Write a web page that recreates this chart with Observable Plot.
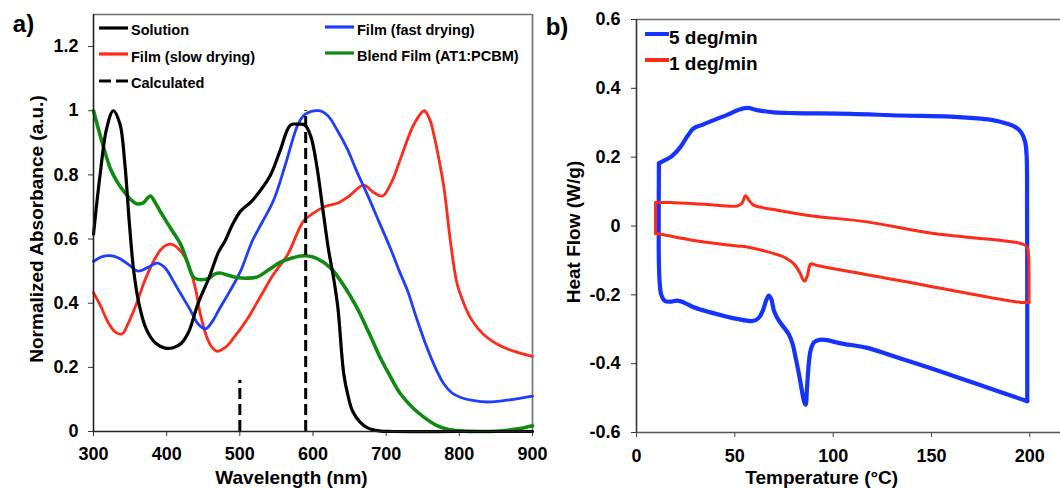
<!DOCTYPE html>
<html>
<head>
<meta charset="utf-8">
<script src="https://cdn.jsdelivr.net/npm/d3@7"></script>
<script src="https://cdn.jsdelivr.net/npm/@observablehq/plot@0.6"></script>
<style>
  html, body { margin: 0; padding: 0; background: #fff; }
  #fig { position: relative; width: 1060px; height: 488px; overflow: hidden; background: #fff;
         font-family: "Liberation Sans", Arial, Helvetica, sans-serif; font-weight: bold; color: #000; }
  .txt { position: absolute; white-space: nowrap; line-height: 1; }
  .sw { position: absolute; overflow: visible; }
</style>
</head>
<body>
<div id="fig"></div>
<script>
// ---------- a) UV-vis absorption spectra: [wavelength (nm), normalized absorbance] ----------
const solution = [
  [300,0.615],[309,0.80],[318,0.945],[327,1.0],[336,0.96],[343,0.83],[349,0.65],[355,0.50],
  [362,0.40],[372,0.32],[385,0.275],[398,0.26],[410,0.262],[420,0.275],[430,0.31],[443,0.40],
  [458,0.48],[471,0.56],[480,0.595],[490,0.645],[501,0.687],[515,0.715],[526,0.745],[542,0.80],
  [555,0.875],[569,0.955],[580,0.958],[589,0.955],[597,0.92],[605,0.83],[613,0.70],[621,0.57],
  [628,0.48],[634,0.386],[642,0.18],[648,0.11],[654,0.064],[664,0.03],[674,0.012],[690,0.002],
  [710,0],[800,0],[900,0]
];
const filmFast = [
  [300,0.53],[312,0.545],[323,0.548],[335,0.54],[348,0.52],[361,0.50],[373,0.51],[387,0.525],
  [398,0.51],[410,0.465],[419,0.43],[432,0.38],[443,0.335],[453,0.32],[463,0.345],[473,0.386],
  [487,0.44],[501,0.50],[517,0.594],[530,0.65],[546,0.72],[562,0.83],[580,0.96],[590,0.99],
  [608,1.0],[620,0.985],[633,0.94],[647,0.88],[660,0.81],[674,0.74],[690,0.655],[706,0.57],
  [718,0.50],[729,0.44],[742,0.35],[756,0.26],[768,0.195],[779,0.148],[790,0.12],[802,0.106],
  [820,0.096],[838,0.092],[856,0.095],[874,0.10],[900,0.11]
];
const filmSlow = [
  [300,0.433],[310,0.39],[320,0.34],[330,0.31],[339,0.304],[348,0.34],[359,0.40],[370,0.47],
  [382,0.53],[393,0.57],[405,0.584],[416,0.57],[428,0.53],[439,0.449],[446,0.366],[455,0.293],
  [462,0.262],[469,0.25],[480,0.262],[491,0.29],[510,0.35],[528,0.42],[546,0.49],[565,0.55],
  [587,0.656],[600,0.68],[615,0.70],[635,0.713],[650,0.735],[669,0.768],[683,0.745],[695,0.734],
  [708,0.78],[720,0.853],[738,0.958],[752,1.0],[760,0.97],[765,0.927],[772,0.85],[779,0.76],
  [788,0.59],[797,0.46],[806,0.40],[815,0.355],[826,0.32],[838,0.293],[852,0.272],[866,0.257],
  [882,0.245],[900,0.234]
];
const blendFilm = [
  [300,1.0],[312,0.90],[323,0.82],[332,0.78],[341,0.75],[350,0.725],[359,0.71],[368,0.713],
  [374,0.728],[378,0.734],[384,0.715],[391,0.687],[405,0.635],[419,0.584],[428,0.53],[437,0.48],
  [446,0.473],[458,0.478],[465,0.49],[473,0.494],[484,0.487],[496,0.48],[510,0.478],[524,0.482],
  [540,0.505],[555,0.527],[570,0.54],[583,0.547],[590,0.548],[605,0.54],[624,0.51],[642,0.455],
  [660,0.386],[676,0.31],[692,0.23],[706,0.17],[720,0.116],[736,0.075],[752,0.044],[768,0.02],
  [784,0.007],[800,0.002],[830,0],[850,0.001],[870,0.005],[885,0.01],[900,0.018]
];
// calculated transitions: [wavelength (nm), relative strength]
const calculated = [[500,0.16],[590,1.0]];

const wavelengthTicks = [300,400,500,600,700,800,900];
const absorbanceTicks = [0,0.2,0.4,0.6,0.8,1,1.2];

// ---------- b) DSC heat flow cycles: [temperature (°C), heat flow (W/g)] ----------
// 5 deg/min: upper branch (incl. the high-temperature turn) and lower branch (incl. the low-temperature turn)
const rate5Upper = [
  [11.4,0.182],[14,0.19],[17.3,0.2],[22.4,0.23],[26,0.262],[29.1,0.284],[33,0.293],[37.6,0.304],
  [46.1,0.323],[52,0.338],[56.3,0.343],[62,0.336],[69.8,0.33],[80,0.328],[108.8,0.326],[134.3,0.321],
  [159.7,0.318],[175,0.312],[181.7,0.307],[188,0.298],[192.5,0.288],[195.6,0.272],[197.6,0.245],
  [198.4,0.2],[198.6,0.05],[198.7,-0.2],[198.7,-0.4],[198.7,-0.509]
];
const rate5Lower = [
  [198.7,-0.509],[175,-0.463],[151.2,-0.416],[130,-0.377],[117.3,-0.354],[103.8,-0.341],[96,-0.331],
  [93,-0.331],[90.3,-0.338],[88.6,-0.36],[87.6,-0.40],[86.7,-0.47],[86,-0.519],[85.2,-0.51],
  [84,-0.475],[82.6,-0.43],[81,-0.385],[79.5,-0.345],[77.5,-0.315],[75,-0.295],[72.4,-0.275],
  [70,-0.248],[68.5,-0.212],[67.3,-0.202],[66,-0.215],[64.3,-0.245],[62,-0.268],[59,-0.276],
  [51.2,-0.27],[45,-0.262],[37.6,-0.251],[29.1,-0.236],[24,-0.222],[20.7,-0.217],[17,-0.22],
  [14.5,-0.218],[12.6,-0.2],[11.8,-0.165],[11.4,-0.11],[11.3,-0.05],[11.3,0.05],[11.4,0.182]
];
// 1 deg/min: upper branch, lower branch, and the short low-temperature step joining them
const rate1Upper = [
  [9.7,0.068],[17.3,0.068],[35,0.063],[51.2,0.058],[53.6,0.066],[55.4,0.088],[57,0.076],
  [59.7,0.06],[63,0.055],[71.6,0.046],[88.5,0.03],[117.3,0.012],[151.2,-0.022],[188.5,-0.044],
  [195,-0.05],[198.5,-0.06],[199.4,-0.09],[199.6,-0.16],[199.6,-0.222]
];
const rate1Lower = [
  [199.6,-0.222],[195.3,-0.222],[134.3,-0.159],[91.9,-0.115],[88.6,-0.11],[87.8,-0.12],
  [87.1,-0.14],[85.6,-0.16],[84.6,-0.155],[83,-0.135],[80,-0.11],[76.5,-0.095],[73.2,-0.086],
  [56.3,-0.061],[51.2,-0.058],[29.1,-0.042],[12.2,-0.024],[9.7,-0.022]
];
const rate1Step = [[9.7,-0.022],[9.7,0.068]];

const temperatureTicks = [0,50,100,150,200];
const heatFlowTicks = [-0.6,-0.4,-0.2,0,0.2,0.4,0.6];

const seriesA = [
  {name: "Solution", data: solution, color: "#000000", width: 3.2},
  {name: "Film (fast drying)", data: filmFast, color: "#1f3dff", width: 2.8},
  {name: "Film (slow drying)", data: filmSlow, color: "#ff2a17", width: 2.8},
  {name: "Blend Film (AT1:PCBM)", data: blendFilm, color: "#118a11", width: 3.6}
];
const seriesB = [
  {name: "5 deg/min", branches: [rate5Upper, rate5Lower], color: "#1433ff", width: 4.2},
  {name: "1 deg/min", branches: [rate1Upper, rate1Lower, rate1Step], color: "#ff2a17", width: 3}
];

const fontStack = "'Liberation Sans', Arial, Helvetica, sans-serif";
const fmt = d => String(+(+d).toFixed(1));
const fig = document.getElementById("fig");

// ---------- panel a ----------
const plotA = Plot.plot({
  width: 545, height: 488,
  marginLeft: 93, marginRight: 13, marginTop: 14, marginBottom: 57,
  style: {position: "absolute", left: "0px", top: "0px", background: "transparent",
          fontFamily: fontStack, fontSize: "18px", fontWeight: "bold", color: "#000", overflow: "visible"},
  x: {domain: [300, 900]},
  y: {domain: [0, 1.3]},
  marks: [
    Plot.ruleY([1.3], {stroke: "#6e6e6e", strokeWidth: 1.6}),
    Plot.ruleX([900], {stroke: "#6e6e6e", strokeWidth: 1.6}),
    Plot.axisY({ticks: absorbanceTicks, tickSize: 5, tickPadding: 10, tickFormat: fmt, label: null, stroke: "#333"}),
    Plot.axisX({ticks: wavelengthTicks, tickSize: 5, tickPadding: 11, tickFormat: fmt, label: null, stroke: "#333"}),
    ...[seriesA[2], seriesA[1], seriesA[3], seriesA[0]].map(s =>
      Plot.line(s.data, {x: d => d[0], y: d => d[1], stroke: s.color, strokeWidth: s.width, curve: "catmull-rom"})),
    Plot.ruleX(calculated, {x: d => d[0], y1: 0, y2: d => d[1], stroke: "#000", strokeWidth: 3, strokeDasharray: "11,5"}),
    Plot.ruleX([300], {stroke: "#222", strokeWidth: 1.6}),
    Plot.ruleY([0], {stroke: "#222", strokeWidth: 1.6})
  ]
});
fig.append(plotA);

// ---------- panel b ----------
const plotB = Plot.plot({
  width: 515, height: 488,
  marginLeft: 91, marginRight: 0, marginTop: 19, marginBottom: 56,
  style: {position: "absolute", left: "545px", top: "0px", background: "transparent",
          fontFamily: fontStack, fontSize: "18px", fontWeight: "bold", color: "#000", overflow: "visible"},
  x: {domain: [0, 215.6]},
  y: {domain: [-0.6, 0.6]},
  marks: [
    Plot.ruleY([0.6], {stroke: "#6e6e6e", strokeWidth: 1.6}),
    Plot.axisY({ticks: heatFlowTicks, tickSize: 5, tickPadding: 11, tickFormat: fmt, label: null, stroke: "#333"}),
    Plot.axisX({ticks: temperatureTicks, tickSize: 5, tickPadding: 12, tickFormat: fmt, label: null, stroke: "#444"}),
    ...seriesB.flatMap(s => s.branches.map(b =>
      Plot.line(b, {x: d => d[0], y: d => d[1], stroke: s.color, strokeWidth: s.width, curve: "catmull-rom"}))),
    Plot.ruleX([0], {stroke: "#333", strokeWidth: 1.6}),
    Plot.ruleY([-0.6], {stroke: "#555", strokeWidth: 1.6})
  ]
});
fig.append(plotB);

// ---------- text: panel tags, axis titles, legends ----------
function addText(str, cx, cy, size, opts = {}) {
  const el = document.createElement("div");
  el.className = "txt";
  el.textContent = str;
  el.style.fontSize = size + "px";
  el.style.left = cx + "px";
  el.style.top = cy + "px";
  const rot = opts.rotate ? ` rotate(${opts.rotate}deg)` : "";
  el.style.transform = (opts.anchor === "start" ? "translate(0,-50%)" : "translate(-50%,-50%)") + rot;
  fig.append(el);
}
function addSwatch(x1, x2, y, color, width, dash) {
  const svg = document.createElementNS("http://www.w3.org/2000/svg", "svg");
  svg.setAttribute("class", "sw");
  svg.setAttribute("width", x2 - x1);
  svg.setAttribute("height", 10);
  svg.style.left = x1 + "px";
  svg.style.top = (y - 5) + "px";
  const ln = document.createElementNS("http://www.w3.org/2000/svg", "line");
  ln.setAttribute("x1", 0); ln.setAttribute("x2", x2 - x1);
  ln.setAttribute("y1", 5); ln.setAttribute("y2", 5);
  ln.setAttribute("stroke", color);
  ln.setAttribute("stroke-width", width);
  if (dash) ln.setAttribute("stroke-dasharray", dash);
  svg.append(ln);
  fig.append(svg);
}

addText("a)", 23.5, 24, 24);
addText("b)", 557, 27, 24);
addText("Normalized Absorbance (a.u.)", 35.5, 229, 19, {rotate: -90});
addText("Wavelength (nm)", 291.5, 476.5, 19);
addText("Heat Flow (W/g)", 572.5, 231.5, 19, {rotate: -90});
addText("Temperature (°C)", 821.7, 476.5, 19);

// legend, panel a (two columns)
const legendA = [
  {label: "Solution", color: "#000000", x: 99, sy: 27.5, ty: 30},
  {label: "Film (slow drying)", color: "#ff2a17", x: 99, sy: 53.5, ty: 56.5},
  {label: "Calculated", color: "#000000", x: 99, sy: 81, ty: 82.5, dash: "12,5"},
  {label: "Film (fast drying)", color: "#1f3dff", x: 325, sy: 26.5, ty: 30},
  {label: "Blend Film (AT1:PCBM)", color: "#118a11", x: 325, sy: 52.5, ty: 56}
];
legendA.forEach(e => {
  addSwatch(e.x, e.x + 29, e.sy, e.color, 3.2, e.dash);
  addText(e.label, e.x + 32, e.ty, 14.5, {anchor: "start"});
});

// legend, panel b
const legendB = [
  {label: "5 deg/min", color: "#1433ff", sy: 33.5, ty: 37},
  {label: "1 deg/min", color: "#ff2a17", sy: 60, ty: 63.3}
];
legendB.forEach(e => {
  addSwatch(645, 669, e.sy, e.color, 4, null);
  addText(e.label, 669, e.ty, 19, {anchor: "start"});
});
</script>
</body>
</html>
